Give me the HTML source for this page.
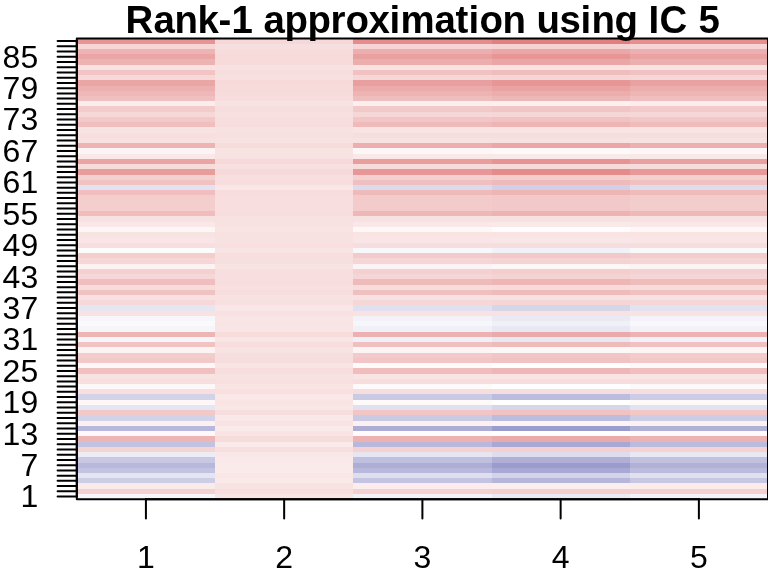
<!DOCTYPE html>
<html lang="en">
<head>
<meta charset="utf-8">
<title>Rank-1 approximation using IC 5</title>
<style>
html,body{margin:0;padding:0;background:#fff;overflow:hidden}
svg{display:block}
text{font-family:"Liberation Sans",Arial,Helvetica,sans-serif;fill:#000}
.ax{font-size:32px}
.ttl{font-size:38.4px;font-weight:bold}
.ln{stroke:#000;stroke-width:2;stroke-linecap:round;stroke-linejoin:round;fill:none}
</style>
</head>
<body>
<svg width="768" height="576" viewBox="0 0 768 576">
<rect x="0" y="0" width="768" height="576" fill="#fff"/>
<g id="heat" shape-rendering="crispEdges">
<g>
<rect x="77" y="38" width="138" height="6" fill="#e69595"/>
<rect x="77" y="44" width="138" height="5" fill="#f6d6d6"/>
<rect x="77" y="49" width="138" height="5" fill="#eeb3b3"/>
<rect x="77" y="54" width="138" height="5" fill="#eaa6a6"/>
<rect x="77" y="59" width="138" height="6" fill="#edb2b2"/>
<rect x="77" y="65" width="138" height="5" fill="#f8e2e2"/>
<rect x="77" y="70" width="138" height="5" fill="#f2c4c4"/>
<rect x="77" y="75" width="138" height="5" fill="#f6d8d8"/>
<rect x="77" y="80" width="138" height="6" fill="#eaa5a5"/>
<rect x="77" y="86" width="138" height="5" fill="#edb0b0"/>
<rect x="77" y="91" width="138" height="5" fill="#efb8b8"/>
<rect x="77" y="96" width="138" height="5" fill="#f0c0c0"/>
<rect x="77" y="101" width="138" height="5" fill="#fbeded"/>
<rect x="77" y="106" width="138" height="6" fill="#f3cbcb"/>
<rect x="77" y="112" width="138" height="5" fill="#f6d8d8"/>
<rect x="77" y="117" width="138" height="5" fill="#f2c9c9"/>
<rect x="77" y="122" width="138" height="5" fill="#f0bebe"/>
<rect x="77" y="127" width="138" height="6" fill="#f8e3e3"/>
<rect x="77" y="133" width="138" height="5" fill="#f8dede"/>
<rect x="77" y="138" width="138" height="5" fill="#f8e1e1"/>
<rect x="77" y="143" width="138" height="5" fill="#eeb3b3"/>
<rect x="77" y="148" width="138" height="6" fill="#fcf4f4"/>
<rect x="77" y="154" width="138" height="5" fill="#fae7e7"/>
<rect x="77" y="159" width="138" height="5" fill="#eaa4a4"/>
<rect x="77" y="164" width="138" height="5" fill="#f7dcdc"/>
<rect x="77" y="169" width="138" height="6" fill="#e89d9d"/>
<rect x="77" y="175" width="138" height="5" fill="#f4d1d1"/>
<rect x="77" y="180" width="138" height="5" fill="#f1c2c2"/>
<rect x="77" y="185" width="138" height="5" fill="#e2e2f1"/>
<rect x="77" y="190" width="138" height="5" fill="#f0bebe"/>
<rect x="77" y="195" width="138" height="6" fill="#f4cdcd"/>
<rect x="77" y="201" width="138" height="5" fill="#f4cdcd"/>
<rect x="77" y="206" width="138" height="5" fill="#f4cdcd"/>
<rect x="77" y="211" width="138" height="5" fill="#f0bcbc"/>
<rect x="77" y="216" width="138" height="6" fill="#f8e1e1"/>
<rect x="77" y="222" width="138" height="5" fill="#fae7e7"/>
<rect x="77" y="227" width="138" height="5" fill="#fdf6f6"/>
<rect x="77" y="232" width="138" height="5" fill="#f8e3e3"/>
<rect x="77" y="237" width="138" height="6" fill="#f9e5e5"/>
<rect x="77" y="243" width="138" height="5" fill="#f8dede"/>
<rect x="77" y="248" width="138" height="5" fill="#fcfcfd"/>
<rect x="77" y="253" width="138" height="5" fill="#f4cdcd"/>
<rect x="77" y="258" width="138" height="6" fill="#f6d6d6"/>
<rect x="77" y="264" width="138" height="5" fill="#fcf2f2"/>
<rect x="77" y="269" width="138" height="5" fill="#f4d1d1"/>
<rect x="77" y="274" width="138" height="5" fill="#f6d6d6"/>
<rect x="77" y="279" width="138" height="6" fill="#f0bebe"/>
<rect x="77" y="285" width="138" height="5" fill="#f7dcdc"/>
<rect x="77" y="290" width="138" height="5" fill="#f1c2c2"/>
<rect x="77" y="295" width="138" height="5" fill="#f8e1e1"/>
<rect x="77" y="300" width="138" height="5" fill="#f6d8d8"/>
<rect x="77" y="305" width="138" height="6" fill="#e6e6f3"/>
<rect x="77" y="311" width="138" height="5" fill="#f8e2e2"/>
<rect x="77" y="316" width="138" height="5" fill="#f6f6fb"/>
<rect x="77" y="321" width="138" height="5" fill="#fafafd"/>
<rect x="77" y="326" width="138" height="6" fill="#f5f5fa"/>
<rect x="77" y="332" width="138" height="5" fill="#eeb5b5"/>
<rect x="77" y="337" width="138" height="5" fill="#f5f5fa"/>
<rect x="77" y="342" width="138" height="5" fill="#f1c2c2"/>
<rect x="77" y="347" width="138" height="6" fill="#fcf3f3"/>
<rect x="77" y="353" width="138" height="5" fill="#f3cccc"/>
<rect x="77" y="358" width="138" height="5" fill="#f2c9c9"/>
<rect x="77" y="363" width="138" height="5" fill="#fdf7f7"/>
<rect x="77" y="368" width="138" height="6" fill="#f0c0c0"/>
<rect x="77" y="374" width="138" height="5" fill="#f8e3e3"/>
<rect x="77" y="379" width="138" height="5" fill="#f8dede"/>
<rect x="77" y="384" width="138" height="5" fill="#fdf7f7"/>
<rect x="77" y="389" width="138" height="5" fill="#f8dede"/>
<rect x="77" y="394" width="138" height="6" fill="#d2d2e9"/>
<rect x="77" y="400" width="138" height="5" fill="#fdf7f7"/>
<rect x="77" y="405" width="138" height="5" fill="#e6e6f3"/>
<rect x="77" y="410" width="138" height="5" fill="#f2c9c9"/>
<rect x="77" y="415" width="138" height="6" fill="#d2d2e9"/>
<rect x="77" y="421" width="138" height="5" fill="#fcf0f0"/>
<rect x="77" y="426" width="138" height="5" fill="#b8b8dc"/>
<rect x="77" y="431" width="138" height="5" fill="#fef8f8"/>
<rect x="77" y="436" width="138" height="6" fill="#eeb5b5"/>
<rect x="77" y="442" width="138" height="5" fill="#c2c2e1"/>
<rect x="77" y="447" width="138" height="5" fill="#f5d4d4"/>
<rect x="77" y="452" width="138" height="5" fill="#ececf5"/>
<rect x="77" y="457" width="138" height="6" fill="#c8c8e4"/>
<rect x="77" y="463" width="138" height="5" fill="#b8b8dc"/>
<rect x="77" y="468" width="138" height="5" fill="#c2c2e1"/>
<rect x="77" y="473" width="138" height="5" fill="#e4e4f2"/>
<rect x="77" y="478" width="138" height="5" fill="#cdcde6"/>
<rect x="77" y="483" width="138" height="6" fill="#faebeb"/>
<rect x="77" y="489" width="138" height="5" fill="#f4d1d1"/>
<rect x="77" y="494" width="138" height="5" fill="#f6f6fb"/>
</g>
<g>
<rect x="215" y="38" width="138" height="6" fill="#f6d8d8"/>
<rect x="215" y="44" width="138" height="5" fill="#f8dfdf"/>
<rect x="215" y="49" width="138" height="5" fill="#f7dcdc"/>
<rect x="215" y="54" width="138" height="5" fill="#f7dada"/>
<rect x="215" y="59" width="138" height="6" fill="#f7dbdb"/>
<rect x="215" y="65" width="138" height="5" fill="#f8e1e1"/>
<rect x="215" y="70" width="138" height="5" fill="#f7dede"/>
<rect x="215" y="75" width="138" height="5" fill="#f8e0e0"/>
<rect x="215" y="80" width="138" height="6" fill="#f6dada"/>
<rect x="215" y="86" width="138" height="5" fill="#f7dbdb"/>
<rect x="215" y="91" width="138" height="5" fill="#f7dcdc"/>
<rect x="215" y="96" width="138" height="5" fill="#f7dddd"/>
<rect x="215" y="101" width="138" height="5" fill="#f8e2e2"/>
<rect x="215" y="106" width="138" height="6" fill="#f7dede"/>
<rect x="215" y="112" width="138" height="5" fill="#f8e0e0"/>
<rect x="215" y="117" width="138" height="5" fill="#f7dede"/>
<rect x="215" y="122" width="138" height="5" fill="#f7dddd"/>
<rect x="215" y="127" width="138" height="6" fill="#f8e1e1"/>
<rect x="215" y="133" width="138" height="5" fill="#f8e0e0"/>
<rect x="215" y="138" width="138" height="5" fill="#f8e1e1"/>
<rect x="215" y="143" width="138" height="5" fill="#f7dcdc"/>
<rect x="215" y="148" width="138" height="6" fill="#f8e3e3"/>
<rect x="215" y="154" width="138" height="5" fill="#f8e1e1"/>
<rect x="215" y="159" width="138" height="5" fill="#f6dada"/>
<rect x="215" y="164" width="138" height="5" fill="#f8e0e0"/>
<rect x="215" y="169" width="138" height="6" fill="#f6d9d9"/>
<rect x="215" y="175" width="138" height="5" fill="#f8dfdf"/>
<rect x="215" y="180" width="138" height="5" fill="#f7dddd"/>
<rect x="215" y="185" width="138" height="5" fill="#f9e7e7"/>
<rect x="215" y="190" width="138" height="5" fill="#f7dddd"/>
<rect x="215" y="195" width="138" height="6" fill="#f8dede"/>
<rect x="215" y="201" width="138" height="5" fill="#f8dede"/>
<rect x="215" y="206" width="138" height="5" fill="#f8dede"/>
<rect x="215" y="211" width="138" height="5" fill="#f7dddd"/>
<rect x="215" y="216" width="138" height="6" fill="#f8e1e1"/>
<rect x="215" y="222" width="138" height="5" fill="#f8e1e1"/>
<rect x="215" y="227" width="138" height="5" fill="#f9e3e3"/>
<rect x="215" y="232" width="138" height="5" fill="#f8e1e1"/>
<rect x="215" y="237" width="138" height="6" fill="#f8e1e1"/>
<rect x="215" y="243" width="138" height="5" fill="#f8e0e0"/>
<rect x="215" y="248" width="138" height="5" fill="#f9e4e4"/>
<rect x="215" y="253" width="138" height="5" fill="#f8dede"/>
<rect x="215" y="258" width="138" height="6" fill="#f8dfdf"/>
<rect x="215" y="264" width="138" height="5" fill="#f8e3e3"/>
<rect x="215" y="269" width="138" height="5" fill="#f8dfdf"/>
<rect x="215" y="274" width="138" height="5" fill="#f8dfdf"/>
<rect x="215" y="279" width="138" height="6" fill="#f7dddd"/>
<rect x="215" y="285" width="138" height="5" fill="#f8e0e0"/>
<rect x="215" y="290" width="138" height="5" fill="#f7dddd"/>
<rect x="215" y="295" width="138" height="5" fill="#f8e1e1"/>
<rect x="215" y="300" width="138" height="5" fill="#f8e0e0"/>
<rect x="215" y="305" width="138" height="6" fill="#f9e6e6"/>
<rect x="215" y="311" width="138" height="5" fill="#f8e1e1"/>
<rect x="215" y="316" width="138" height="5" fill="#f9e5e5"/>
<rect x="215" y="321" width="138" height="5" fill="#f9e4e4"/>
<rect x="215" y="326" width="138" height="6" fill="#f9e5e5"/>
<rect x="215" y="332" width="138" height="5" fill="#f7dcdc"/>
<rect x="215" y="337" width="138" height="5" fill="#f9e5e5"/>
<rect x="215" y="342" width="138" height="5" fill="#f7dddd"/>
<rect x="215" y="347" width="138" height="6" fill="#f8e3e3"/>
<rect x="215" y="353" width="138" height="5" fill="#f7dede"/>
<rect x="215" y="358" width="138" height="5" fill="#f7dede"/>
<rect x="215" y="363" width="138" height="5" fill="#f9e3e3"/>
<rect x="215" y="368" width="138" height="6" fill="#f7dddd"/>
<rect x="215" y="374" width="138" height="5" fill="#f8e1e1"/>
<rect x="215" y="379" width="138" height="5" fill="#f8e0e0"/>
<rect x="215" y="384" width="138" height="5" fill="#f9e3e3"/>
<rect x="215" y="389" width="138" height="5" fill="#f8e0e0"/>
<rect x="215" y="394" width="138" height="6" fill="#fae8e8"/>
<rect x="215" y="400" width="138" height="5" fill="#f9e3e3"/>
<rect x="215" y="405" width="138" height="5" fill="#f9e6e6"/>
<rect x="215" y="410" width="138" height="5" fill="#f7dede"/>
<rect x="215" y="415" width="138" height="6" fill="#fae8e8"/>
<rect x="215" y="421" width="138" height="5" fill="#f8e2e2"/>
<rect x="215" y="426" width="138" height="5" fill="#faebeb"/>
<rect x="215" y="431" width="138" height="5" fill="#f9e3e3"/>
<rect x="215" y="436" width="138" height="6" fill="#f7dcdc"/>
<rect x="215" y="442" width="138" height="5" fill="#faeaea"/>
<rect x="215" y="447" width="138" height="5" fill="#f8dfdf"/>
<rect x="215" y="452" width="138" height="5" fill="#f9e6e6"/>
<rect x="215" y="457" width="138" height="6" fill="#fae9e9"/>
<rect x="215" y="463" width="138" height="5" fill="#faebeb"/>
<rect x="215" y="468" width="138" height="5" fill="#faeaea"/>
<rect x="215" y="473" width="138" height="5" fill="#f9e6e6"/>
<rect x="215" y="478" width="138" height="5" fill="#fae9e9"/>
<rect x="215" y="483" width="138" height="6" fill="#f8e2e2"/>
<rect x="215" y="489" width="138" height="5" fill="#f8dfdf"/>
<rect x="215" y="494" width="138" height="5" fill="#f9e5e5"/>
</g>
<g>
<rect x="353" y="38" width="139" height="6" fill="#e58d8d"/>
<rect x="353" y="44" width="139" height="5" fill="#f5d5d5"/>
<rect x="353" y="49" width="139" height="5" fill="#ecaeae"/>
<rect x="353" y="54" width="139" height="5" fill="#e9a0a0"/>
<rect x="353" y="59" width="139" height="6" fill="#ecadad"/>
<rect x="353" y="65" width="139" height="5" fill="#f8e2e2"/>
<rect x="353" y="70" width="139" height="5" fill="#f1c2c2"/>
<rect x="353" y="75" width="139" height="5" fill="#f6d7d7"/>
<rect x="353" y="80" width="139" height="6" fill="#e99f9f"/>
<rect x="353" y="86" width="139" height="5" fill="#ecabab"/>
<rect x="353" y="91" width="139" height="5" fill="#eeb4b4"/>
<rect x="353" y="96" width="139" height="5" fill="#f0bdbd"/>
<rect x="353" y="101" width="139" height="5" fill="#fbeeee"/>
<rect x="353" y="106" width="139" height="6" fill="#f2c9c9"/>
<rect x="353" y="112" width="139" height="5" fill="#f6d7d7"/>
<rect x="353" y="117" width="139" height="5" fill="#f2c6c6"/>
<rect x="353" y="122" width="139" height="5" fill="#efbaba"/>
<rect x="353" y="127" width="139" height="6" fill="#f9e3e3"/>
<rect x="353" y="133" width="139" height="5" fill="#f7dede"/>
<rect x="353" y="138" width="139" height="5" fill="#f8e1e1"/>
<rect x="353" y="143" width="139" height="5" fill="#ecaeae"/>
<rect x="353" y="148" width="139" height="6" fill="#fdf6f6"/>
<rect x="353" y="154" width="139" height="5" fill="#fae8e8"/>
<rect x="353" y="159" width="139" height="5" fill="#e99e9e"/>
<rect x="353" y="164" width="139" height="5" fill="#f7dcdc"/>
<rect x="353" y="169" width="139" height="6" fill="#e79797"/>
<rect x="353" y="175" width="139" height="5" fill="#f4d0d0"/>
<rect x="353" y="180" width="139" height="5" fill="#f0bfbf"/>
<rect x="353" y="185" width="139" height="5" fill="#dbdbed"/>
<rect x="353" y="190" width="139" height="5" fill="#efbaba"/>
<rect x="353" y="195" width="139" height="6" fill="#f3cbcb"/>
<rect x="353" y="201" width="139" height="5" fill="#f3cbcb"/>
<rect x="353" y="206" width="139" height="5" fill="#f3cbcb"/>
<rect x="353" y="211" width="139" height="5" fill="#efb8b8"/>
<rect x="353" y="216" width="139" height="6" fill="#f8e1e1"/>
<rect x="353" y="222" width="139" height="5" fill="#fae8e8"/>
<rect x="353" y="227" width="139" height="5" fill="#fdf8f8"/>
<rect x="353" y="232" width="139" height="5" fill="#f9e3e3"/>
<rect x="353" y="237" width="139" height="6" fill="#f9e5e5"/>
<rect x="353" y="243" width="139" height="5" fill="#f7dede"/>
<rect x="353" y="248" width="139" height="5" fill="#f8f8fc"/>
<rect x="353" y="253" width="139" height="5" fill="#f3cbcb"/>
<rect x="353" y="258" width="139" height="6" fill="#f5d5d5"/>
<rect x="353" y="264" width="139" height="5" fill="#fcf4f4"/>
<rect x="353" y="269" width="139" height="5" fill="#f4d0d0"/>
<rect x="353" y="274" width="139" height="5" fill="#f5d5d5"/>
<rect x="353" y="279" width="139" height="6" fill="#efbaba"/>
<rect x="353" y="285" width="139" height="5" fill="#f7dcdc"/>
<rect x="353" y="290" width="139" height="5" fill="#f0bfbf"/>
<rect x="353" y="295" width="139" height="5" fill="#f8e1e1"/>
<rect x="353" y="300" width="139" height="5" fill="#f6d7d7"/>
<rect x="353" y="305" width="139" height="6" fill="#e0e0f0"/>
<rect x="353" y="311" width="139" height="5" fill="#f8e2e2"/>
<rect x="353" y="316" width="139" height="5" fill="#f2f2f8"/>
<rect x="353" y="321" width="139" height="5" fill="#f6f6fb"/>
<rect x="353" y="326" width="139" height="6" fill="#f0f0f8"/>
<rect x="353" y="332" width="139" height="5" fill="#edb1b1"/>
<rect x="353" y="337" width="139" height="5" fill="#f0f0f8"/>
<rect x="353" y="342" width="139" height="5" fill="#f0bfbf"/>
<rect x="353" y="347" width="139" height="6" fill="#fdf5f5"/>
<rect x="353" y="353" width="139" height="5" fill="#f3caca"/>
<rect x="353" y="358" width="139" height="5" fill="#f2c6c6"/>
<rect x="353" y="363" width="139" height="5" fill="#fefafa"/>
<rect x="353" y="368" width="139" height="6" fill="#f0bdbd"/>
<rect x="353" y="374" width="139" height="5" fill="#f9e3e3"/>
<rect x="353" y="379" width="139" height="5" fill="#f7dede"/>
<rect x="353" y="384" width="139" height="5" fill="#fefafa"/>
<rect x="353" y="389" width="139" height="5" fill="#f7dede"/>
<rect x="353" y="394" width="139" height="6" fill="#cacae5"/>
<rect x="353" y="400" width="139" height="5" fill="#fefafa"/>
<rect x="353" y="405" width="139" height="5" fill="#e0e0f0"/>
<rect x="353" y="410" width="139" height="5" fill="#f2c6c6"/>
<rect x="353" y="415" width="139" height="6" fill="#cacae5"/>
<rect x="353" y="421" width="139" height="5" fill="#fcf1f1"/>
<rect x="353" y="426" width="139" height="5" fill="#adadd6"/>
<rect x="353" y="431" width="139" height="5" fill="#fefbfb"/>
<rect x="353" y="436" width="139" height="6" fill="#edb1b1"/>
<rect x="353" y="442" width="139" height="5" fill="#b8b8dc"/>
<rect x="353" y="447" width="139" height="5" fill="#f5d2d2"/>
<rect x="353" y="452" width="139" height="5" fill="#e6e6f3"/>
<rect x="353" y="457" width="139" height="6" fill="#bfbfdf"/>
<rect x="353" y="463" width="139" height="5" fill="#adadd6"/>
<rect x="353" y="468" width="139" height="5" fill="#b8b8dc"/>
<rect x="353" y="473" width="139" height="5" fill="#dedeee"/>
<rect x="353" y="478" width="139" height="5" fill="#c4c4e2"/>
<rect x="353" y="483" width="139" height="6" fill="#fbeded"/>
<rect x="353" y="489" width="139" height="5" fill="#f4d0d0"/>
<rect x="353" y="494" width="139" height="5" fill="#f2f2f8"/>
</g>
<g>
<rect x="492" y="38" width="138" height="6" fill="#e28080"/>
<rect x="492" y="44" width="138" height="5" fill="#f5d3d3"/>
<rect x="492" y="49" width="138" height="5" fill="#eba7a7"/>
<rect x="492" y="54" width="138" height="5" fill="#e79696"/>
<rect x="492" y="59" width="138" height="6" fill="#eaa5a5"/>
<rect x="492" y="65" width="138" height="5" fill="#f8e2e2"/>
<rect x="492" y="70" width="138" height="5" fill="#f0bdbd"/>
<rect x="492" y="75" width="138" height="5" fill="#f5d6d6"/>
<rect x="492" y="80" width="138" height="6" fill="#e79595"/>
<rect x="492" y="86" width="138" height="5" fill="#eaa3a3"/>
<rect x="492" y="91" width="138" height="5" fill="#ecadad"/>
<rect x="492" y="96" width="138" height="5" fill="#eeb7b7"/>
<rect x="492" y="101" width="138" height="5" fill="#fbf0f0"/>
<rect x="492" y="106" width="138" height="6" fill="#f2c5c5"/>
<rect x="492" y="112" width="138" height="5" fill="#f5d6d6"/>
<rect x="492" y="117" width="138" height="5" fill="#f1c2c2"/>
<rect x="492" y="122" width="138" height="5" fill="#eeb5b5"/>
<rect x="492" y="127" width="138" height="6" fill="#f9e3e3"/>
<rect x="492" y="133" width="138" height="5" fill="#f7dede"/>
<rect x="492" y="138" width="138" height="5" fill="#f8e1e1"/>
<rect x="492" y="143" width="138" height="5" fill="#eba7a7"/>
<rect x="492" y="148" width="138" height="6" fill="#fef9f9"/>
<rect x="492" y="154" width="138" height="5" fill="#fae9e9"/>
<rect x="492" y="159" width="138" height="5" fill="#e69393"/>
<rect x="492" y="164" width="138" height="5" fill="#f7dbdb"/>
<rect x="492" y="169" width="138" height="6" fill="#e48b8b"/>
<rect x="492" y="175" width="138" height="5" fill="#f4cdcd"/>
<rect x="492" y="180" width="138" height="5" fill="#efbaba"/>
<rect x="492" y="185" width="138" height="5" fill="#d0d0e8"/>
<rect x="492" y="190" width="138" height="5" fill="#eeb5b5"/>
<rect x="492" y="195" width="138" height="6" fill="#f2c8c8"/>
<rect x="492" y="201" width="138" height="5" fill="#f2c8c8"/>
<rect x="492" y="206" width="138" height="5" fill="#f2c8c8"/>
<rect x="492" y="211" width="138" height="5" fill="#edb2b2"/>
<rect x="492" y="216" width="138" height="6" fill="#f8e1e1"/>
<rect x="492" y="222" width="138" height="5" fill="#fae9e9"/>
<rect x="492" y="227" width="138" height="5" fill="#fefcfc"/>
<rect x="492" y="232" width="138" height="5" fill="#f9e3e3"/>
<rect x="492" y="237" width="138" height="6" fill="#f9e6e6"/>
<rect x="492" y="243" width="138" height="5" fill="#f7dede"/>
<rect x="492" y="248" width="138" height="5" fill="#f1f1f8"/>
<rect x="492" y="253" width="138" height="5" fill="#f2c8c8"/>
<rect x="492" y="258" width="138" height="6" fill="#f5d3d3"/>
<rect x="492" y="264" width="138" height="5" fill="#fdf7f7"/>
<rect x="492" y="269" width="138" height="5" fill="#f4cdcd"/>
<rect x="492" y="274" width="138" height="5" fill="#f5d3d3"/>
<rect x="492" y="279" width="138" height="6" fill="#eeb5b5"/>
<rect x="492" y="285" width="138" height="5" fill="#f7dbdb"/>
<rect x="492" y="290" width="138" height="5" fill="#efbaba"/>
<rect x="492" y="295" width="138" height="5" fill="#f8e1e1"/>
<rect x="492" y="300" width="138" height="5" fill="#f5d6d6"/>
<rect x="492" y="305" width="138" height="6" fill="#d6d6ea"/>
<rect x="492" y="311" width="138" height="5" fill="#f8e2e2"/>
<rect x="492" y="316" width="138" height="5" fill="#eaeaf5"/>
<rect x="492" y="321" width="138" height="5" fill="#f0f0f7"/>
<rect x="492" y="326" width="138" height="6" fill="#e8e8f4"/>
<rect x="492" y="332" width="138" height="5" fill="#ebaaaa"/>
<rect x="492" y="337" width="138" height="5" fill="#e8e8f4"/>
<rect x="492" y="342" width="138" height="5" fill="#efbaba"/>
<rect x="492" y="347" width="138" height="6" fill="#fdf8f8"/>
<rect x="492" y="353" width="138" height="5" fill="#f2c6c6"/>
<rect x="492" y="358" width="138" height="5" fill="#f1c2c2"/>
<rect x="492" y="363" width="138" height="5" fill="#fffefe"/>
<rect x="492" y="368" width="138" height="6" fill="#eeb7b7"/>
<rect x="492" y="374" width="138" height="5" fill="#f9e3e3"/>
<rect x="492" y="379" width="138" height="5" fill="#f7dede"/>
<rect x="492" y="384" width="138" height="5" fill="#fffefe"/>
<rect x="492" y="389" width="138" height="5" fill="#f7dede"/>
<rect x="492" y="394" width="138" height="6" fill="#bcbcde"/>
<rect x="492" y="400" width="138" height="5" fill="#fffefe"/>
<rect x="492" y="405" width="138" height="5" fill="#d6d6ea"/>
<rect x="492" y="410" width="138" height="5" fill="#f1c2c2"/>
<rect x="492" y="415" width="138" height="6" fill="#bcbcde"/>
<rect x="492" y="421" width="138" height="5" fill="#fcf4f4"/>
<rect x="492" y="426" width="138" height="5" fill="#9b9bcd"/>
<rect x="492" y="431" width="138" height="5" fill="#ffffff"/>
<rect x="492" y="436" width="138" height="6" fill="#ebaaaa"/>
<rect x="492" y="442" width="138" height="5" fill="#a8a8d4"/>
<rect x="492" y="447" width="138" height="5" fill="#f4d0d0"/>
<rect x="492" y="452" width="138" height="5" fill="#ddddee"/>
<rect x="492" y="457" width="138" height="6" fill="#afafd7"/>
<rect x="492" y="463" width="138" height="5" fill="#9b9bcd"/>
<rect x="492" y="468" width="138" height="5" fill="#a8a8d4"/>
<rect x="492" y="473" width="138" height="5" fill="#d3d3e9"/>
<rect x="492" y="478" width="138" height="5" fill="#b6b6db"/>
<rect x="492" y="483" width="138" height="6" fill="#fbeeee"/>
<rect x="492" y="489" width="138" height="5" fill="#f4cdcd"/>
<rect x="492" y="494" width="138" height="5" fill="#eaeaf5"/>
</g>
<g>
<rect x="630" y="38" width="138" height="6" fill="#e58f8f"/>
<rect x="630" y="44" width="138" height="5" fill="#f5d5d5"/>
<rect x="630" y="49" width="138" height="5" fill="#edb0b0"/>
<rect x="630" y="54" width="138" height="5" fill="#eaa2a2"/>
<rect x="630" y="59" width="138" height="6" fill="#ecafaf"/>
<rect x="630" y="65" width="138" height="5" fill="#f8e2e2"/>
<rect x="630" y="70" width="138" height="5" fill="#f1c2c2"/>
<rect x="630" y="75" width="138" height="5" fill="#f6d7d7"/>
<rect x="630" y="80" width="138" height="6" fill="#e9a1a1"/>
<rect x="630" y="86" width="138" height="5" fill="#ecadad"/>
<rect x="630" y="91" width="138" height="5" fill="#eeb5b5"/>
<rect x="630" y="96" width="138" height="5" fill="#f0bebe"/>
<rect x="630" y="101" width="138" height="5" fill="#fbeded"/>
<rect x="630" y="106" width="138" height="6" fill="#f3c9c9"/>
<rect x="630" y="112" width="138" height="5" fill="#f6d7d7"/>
<rect x="630" y="117" width="138" height="5" fill="#f2c7c7"/>
<rect x="630" y="122" width="138" height="5" fill="#efbbbb"/>
<rect x="630" y="127" width="138" height="6" fill="#f9e3e3"/>
<rect x="630" y="133" width="138" height="5" fill="#f7dede"/>
<rect x="630" y="138" width="138" height="5" fill="#f8e1e1"/>
<rect x="630" y="143" width="138" height="5" fill="#edb0b0"/>
<rect x="630" y="148" width="138" height="6" fill="#fdf6f6"/>
<rect x="630" y="154" width="138" height="5" fill="#fae8e8"/>
<rect x="630" y="159" width="138" height="5" fill="#e9a0a0"/>
<rect x="630" y="164" width="138" height="5" fill="#f7dcdc"/>
<rect x="630" y="169" width="138" height="6" fill="#e79999"/>
<rect x="630" y="175" width="138" height="5" fill="#f4d0d0"/>
<rect x="630" y="180" width="138" height="5" fill="#f1c0c0"/>
<rect x="630" y="185" width="138" height="5" fill="#ddddee"/>
<rect x="630" y="190" width="138" height="5" fill="#efbbbb"/>
<rect x="630" y="195" width="138" height="6" fill="#f3cccc"/>
<rect x="630" y="201" width="138" height="5" fill="#f3cccc"/>
<rect x="630" y="206" width="138" height="5" fill="#f3cccc"/>
<rect x="630" y="211" width="138" height="5" fill="#efb9b9"/>
<rect x="630" y="216" width="138" height="6" fill="#f8e1e1"/>
<rect x="630" y="222" width="138" height="5" fill="#fae8e8"/>
<rect x="630" y="227" width="138" height="5" fill="#fdf7f7"/>
<rect x="630" y="232" width="138" height="5" fill="#f9e3e3"/>
<rect x="630" y="237" width="138" height="6" fill="#f9e5e5"/>
<rect x="630" y="243" width="138" height="5" fill="#f7dede"/>
<rect x="630" y="248" width="138" height="5" fill="#f9f9fc"/>
<rect x="630" y="253" width="138" height="5" fill="#f3cccc"/>
<rect x="630" y="258" width="138" height="6" fill="#f5d5d5"/>
<rect x="630" y="264" width="138" height="5" fill="#fcf3f3"/>
<rect x="630" y="269" width="138" height="5" fill="#f4d0d0"/>
<rect x="630" y="274" width="138" height="5" fill="#f5d5d5"/>
<rect x="630" y="279" width="138" height="6" fill="#efbbbb"/>
<rect x="630" y="285" width="138" height="5" fill="#f7dcdc"/>
<rect x="630" y="290" width="138" height="5" fill="#f1c0c0"/>
<rect x="630" y="295" width="138" height="5" fill="#f8e1e1"/>
<rect x="630" y="300" width="138" height="5" fill="#f6d7d7"/>
<rect x="630" y="305" width="138" height="6" fill="#e2e2f0"/>
<rect x="630" y="311" width="138" height="5" fill="#f8e2e2"/>
<rect x="630" y="316" width="138" height="5" fill="#f3f3f9"/>
<rect x="630" y="321" width="138" height="5" fill="#f8f8fb"/>
<rect x="630" y="326" width="138" height="6" fill="#f2f2f8"/>
<rect x="630" y="332" width="138" height="5" fill="#edb2b2"/>
<rect x="630" y="337" width="138" height="5" fill="#f2f2f8"/>
<rect x="630" y="342" width="138" height="5" fill="#f1c0c0"/>
<rect x="630" y="347" width="138" height="6" fill="#fdf4f4"/>
<rect x="630" y="353" width="138" height="5" fill="#f3cbcb"/>
<rect x="630" y="358" width="138" height="5" fill="#f2c7c7"/>
<rect x="630" y="363" width="138" height="5" fill="#fef9f9"/>
<rect x="630" y="368" width="138" height="6" fill="#f0bebe"/>
<rect x="630" y="374" width="138" height="5" fill="#f9e3e3"/>
<rect x="630" y="379" width="138" height="5" fill="#f7dede"/>
<rect x="630" y="384" width="138" height="5" fill="#fef9f9"/>
<rect x="630" y="389" width="138" height="5" fill="#f7dede"/>
<rect x="630" y="394" width="138" height="6" fill="#cccce6"/>
<rect x="630" y="400" width="138" height="5" fill="#fef9f9"/>
<rect x="630" y="405" width="138" height="5" fill="#e2e2f0"/>
<rect x="630" y="410" width="138" height="5" fill="#f2c7c7"/>
<rect x="630" y="415" width="138" height="6" fill="#cccce6"/>
<rect x="630" y="421" width="138" height="5" fill="#fcf1f1"/>
<rect x="630" y="426" width="138" height="5" fill="#b1b1d8"/>
<rect x="630" y="431" width="138" height="5" fill="#fefafa"/>
<rect x="630" y="436" width="138" height="6" fill="#edb2b2"/>
<rect x="630" y="442" width="138" height="5" fill="#bbbbdd"/>
<rect x="630" y="447" width="138" height="5" fill="#f5d3d3"/>
<rect x="630" y="452" width="138" height="5" fill="#e8e8f4"/>
<rect x="630" y="457" width="138" height="6" fill="#c2c2e0"/>
<rect x="630" y="463" width="138" height="5" fill="#b1b1d8"/>
<rect x="630" y="468" width="138" height="5" fill="#bbbbdd"/>
<rect x="630" y="473" width="138" height="5" fill="#e0e0ef"/>
<rect x="630" y="478" width="138" height="5" fill="#c7c7e3"/>
<rect x="630" y="483" width="138" height="6" fill="#fbecec"/>
<rect x="630" y="489" width="138" height="5" fill="#f4d0d0"/>
<rect x="630" y="494" width="138" height="5" fill="#f3f3f9"/>
</g>
</g>
<g class="ln">
<path d="M76.8 496.58H57.6M76.8 491.35H57.6M76.8 486.11H57.6M76.8 480.87H57.6M76.8 475.64H57.6M76.8 470.4H57.6M76.8 465.16H57.6M76.8 459.93H57.6M76.8 454.69H57.6M76.8 449.45H57.6M76.8 444.22H57.6M76.8 438.98H57.6M76.8 433.75H57.6M76.8 428.51H57.6M76.8 423.27H57.6M76.8 418.04H57.6M76.8 412.8H57.6M76.8 407.56H57.6M76.8 402.33H57.6M76.8 397.09H57.6M76.8 391.85H57.6M76.8 386.62H57.6M76.8 381.38H57.6M76.8 376.15H57.6M76.8 370.91H57.6M76.8 365.67H57.6M76.8 360.44H57.6M76.8 355.2H57.6M76.8 349.96H57.6M76.8 344.73H57.6M76.8 339.49H57.6M76.8 334.25H57.6M76.8 329.02H57.6M76.8 323.78H57.6M76.8 318.55H57.6M76.8 313.31H57.6M76.8 308.07H57.6M76.8 302.84H57.6M76.8 297.6H57.6M76.8 292.36H57.6M76.8 287.13H57.6M76.8 281.89H57.6M76.8 276.65H57.6M76.8 271.42H57.6M76.8 266.18H57.6M76.8 260.95H57.6M76.8 255.71H57.6M76.8 250.47H57.6M76.8 245.24H57.6M76.8 240H57.6M76.8 234.76H57.6M76.8 229.53H57.6M76.8 224.29H57.6M76.8 219.05H57.6M76.8 213.82H57.6M76.8 208.58H57.6M76.8 203.35H57.6M76.8 198.11H57.6M76.8 192.87H57.6M76.8 187.64H57.6M76.8 182.4H57.6M76.8 177.16H57.6M76.8 171.93H57.6M76.8 166.69H57.6M76.8 161.45H57.6M76.8 156.22H57.6M76.8 150.98H57.6M76.8 145.75H57.6M76.8 140.51H57.6M76.8 135.27H57.6M76.8 130.04H57.6M76.8 124.8H57.6M76.8 119.56H57.6M76.8 114.33H57.6M76.8 109.09H57.6M76.8 103.85H57.6M76.8 98.62H57.6M76.8 93.38H57.6M76.8 88.15H57.6M76.8 82.91H57.6M76.8 77.67H57.6M76.8 72.44H57.6M76.8 67.2H57.6M76.8 61.96H57.6M76.8 56.73H57.6M76.8 51.49H57.6M76.8 46.25H57.6M76.8 41.02H57.6"/>
<path d="M76.8 496.58V41.02"/>
<path d="M145.92 499.2V518.4M284.16 499.2V518.4M422.4 499.2V518.4M560.64 499.2V518.4M698.88 499.2V518.4"/>
<path d="M145.92 499.2H698.88"/>
<rect x="76.8" y="38.4" width="691.2" height="460.8"/>
</g>
<g class="ax">
<text x="20.55" y="507">1</text>
<text x="20.55" y="476">7</text>
<text x="2.55 20.55" y="445">13</text>
<text x="2.55 20.55" y="413">19</text>
<text x="2.55 20.55" y="382">25</text>
<text x="2.55 20.55" y="350">31</text>
<text x="2.55 20.55" y="319">37</text>
<text x="2.55 20.55" y="288">43</text>
<text x="2.55 20.55" y="256">49</text>
<text x="2.55 20.55" y="225">55</text>
<text x="2.55 20.55" y="193">61</text>
<text x="2.55 20.55" y="162">67</text>
<text x="2.55 20.55" y="130">73</text>
<text x="2.55 20.55" y="99">79</text>
<text x="2.55 20.55" y="68">85</text>
</g>
<g class="ax" text-anchor="middle">
<text x="145.92" y="568">1</text>
<text x="284.16" y="568">2</text>
<text x="422.4" y="568">3</text>
<text x="560.64" y="568">4</text>
<text x="698.88" y="568">5</text>
</g>
<text class="ttl" x="125.6 153.6 174.6 197.6 218.6 231.6 252.6 263.6 284.6 307.6 330.6 345.6 368.6 389.6 400.6 434.6 455.6 468.6 479.6 502.6 525.6 536.6 559.6 580.6 591.6 614.6 637.6 648.6 659.6 687.6 698.6" y="33">Rank-1 approximation using IC 5</text>
</svg>
</body>
</html>
